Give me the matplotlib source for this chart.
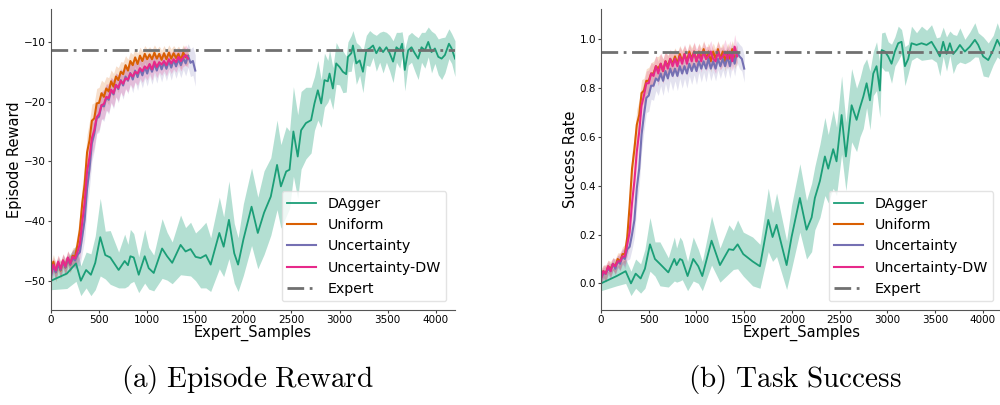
import numpy as np
import matplotlib
matplotlib.use("Agg")
import matplotlib.pyplot as plt

plt.rcParams['mathtext.fontset'] = 'cm'
plt.rcParams['font.family'] = ['DejaVu Sans']

# ---------------- data ----------------
learner_x = list(range(0, 1525, 25))  # expert samples grid for learner methods

# Episode reward
uniform_r = [-48.5, -46.8, -48.6, -47.0, -48.3, -46.6, -47.8, -46.2, -47.3, -45.8,
             -46.0, -44.0, -41.5, -37.0, -33.8, -28.5, -26.5, -23.2, -22.8, -20.3,
             -20.2, -18.6, -19.2, -17.8, -18.3, -16.6, -17.5, -15.8, -16.4, -15.0,
             -15.4, -13.9, -14.8, -13.2, -13.9, -12.6, -13.7, -12.3, -13.2, -12.0,
             -12.9, -12.1, -12.9, -11.8, -12.8, -12.0, -13.0, -11.9, -12.9, -11.8,
             -12.8, -11.9, -12.7, -12.0, -13.0, -11.8, -12.6, -12.3]
uniform_r_sd = [1.5, 1.2, 1.6, 1.2, 1.4, 1.1, 1.4, 1.2, 1.4, 1.3,
                1.6, 2.0, 2.6, 3.0, 3.2, 3.0, 3.2, 2.8, 2.6, 2.5,
                2.6, 2.2, 2.4, 2.0, 2.3, 1.9, 2.2, 1.8, 2.1, 1.7,
                2.0, 1.6, 1.9, 1.5, 1.8, 1.5, 1.8, 1.4, 1.7, 1.4,
                1.7, 1.3, 1.6, 1.3, 1.6, 1.3, 1.6, 1.3, 1.5, 1.3,
                1.6, 1.3, 1.5, 1.3, 1.6, 1.3, 1.5, 1.3]
uncert_r = [-49.2, -47.6, -48.6, -47.2, -48.2, -46.8, -47.8, -46.3, -47.3, -46.2,
            -46.6, -45.7, -45.2, -42.6, -39.8, -34.6, -31.3, -27.0, -25.4, -22.8,
            -22.5, -20.6, -20.8, -19.3, -19.7, -18.1, -18.8, -17.2, -17.9, -16.4,
            -17.3, -15.8, -16.5, -15.2, -16.3, -14.8, -15.9, -14.5, -15.6, -14.2,
            -15.3, -13.9, -15.0, -13.7, -14.8, -13.5, -14.6, -13.4, -14.5, -13.2,
            -14.3, -13.0, -14.1, -12.9, -13.9, -12.7, -13.6, -12.3, -13.5, -13.2,
            -14.8]
uncert_r_sd = [1.3, 1.1, 1.4, 1.1, 1.3, 1.1, 1.3, 1.1, 1.3, 1.2,
               1.5, 1.8, 2.3, 2.8, 3.3, 3.2, 3.1, 3.0, 2.8, 2.6,
               2.6, 2.3, 2.5, 2.2, 2.4, 2.1, 2.4, 2.0, 2.3, 2.0,
               2.3, 1.9, 2.2, 1.9, 2.2, 1.9, 2.2, 1.9, 2.1, 1.9,
               2.1, 1.8, 2.1, 1.8, 2.1, 1.8, 2.1, 1.8, 2.0, 1.8,
               2.1, 1.8, 2.0, 1.8, 2.1, 1.9, 2.1, 2.0, 2.3, 2.4,
               2.6]
unc_dw_r = [-48.9, -47.3, -48.3, -46.8, -48.0, -46.6, -47.6, -46.1, -47.1, -46.0,
            -46.3, -45.2, -43.8, -40.2, -36.8, -31.7, -29.3, -26.1, -24.8, -22.6,
            -22.1, -20.6, -20.4, -19.2, -19.4, -18.0, -18.6, -17.2, -17.7, -16.5,
            -17.0, -16.1, -16.3, -15.3, -15.8, -15.0, -15.3, -14.4, -14.9, -14.1,
            -14.5, -13.7, -14.6, -13.3, -14.2, -13.4, -13.8, -13.2, -13.9, -12.9,
            -13.6, -12.9, -13.4, -12.5, -13.2, -12.6, -12.2, -12.8]
unc_dw_r_sd = [1.4, 1.2, 1.4, 1.1, 1.3, 1.1, 1.3, 1.1, 1.3, 1.2,
               1.5, 1.9, 2.4, 2.9, 3.3, 3.2, 3.0, 3.0, 2.8, 2.6,
               2.6, 2.3, 2.5, 2.2, 2.4, 2.1, 2.3, 2.0, 2.2, 1.9,
               2.1, 1.8, 2.1, 1.8, 2.0, 1.7, 2.0, 1.7, 1.9, 1.7,
               1.9, 1.6, 1.8, 1.6, 1.8, 1.6, 1.8, 1.6, 1.8, 1.6,
               1.7, 1.6, 1.7, 1.5, 1.7, 1.5, 1.7, 1.5]

dagger_r_x = [0, 165, 260, 310, 365, 415, 460, 512, 564, 616,
              703, 766, 800, 825, 860, 912, 974, 1016, 1068, 1155,
              1207, 1260, 1347, 1399, 1451, 1503, 1555, 1610, 1660, 1750,
              1795, 1850, 1905, 1945, 2000, 2085, 2150, 2215, 2285, 2350,
              2390, 2445, 2480, 2520, 2565, 2600, 2650,
              2704, 2739, 2774, 2809, 2843, 2878, 2896, 2930, 2965, 3000,
              3034, 3069, 3087, 3122, 3139, 3174, 3209, 3243, 3278, 3313,
              3348, 3382, 3417, 3452, 3487, 3521, 3556, 3591, 3626, 3650,
              3678, 3713, 3748, 3782, 3817, 3852, 3887, 3922, 3956, 3991,
              4026, 4061, 4095, 4137, 4165, 4200]
dagger_r = [-50.0, -48.8, -47.1, -50.0, -48.2, -49.0, -47.0, -42.7, -45.7, -46.1,
            -48.2, -46.7, -47.4, -45.9, -46.1, -49.0, -45.9, -47.9, -48.7, -44.6,
            -45.9, -47.0, -44.0, -45.1, -44.7, -46.0, -46.2, -45.7, -47.3, -42.0,
            -44.3, -39.8, -45.4, -47.3, -43.1, -37.6, -42.0, -38.6, -35.9, -30.6,
            -34.2, -31.7, -31.4, -25.0, -29.2, -24.8, -23.6,
            -23.1, -20.3, -18.1, -20.3, -16.4, -16.6, -15.3, -17.8, -13.6, -14.2,
            -15.0, -15.4, -12.5, -11.9, -10.6, -13.6, -13.1, -15.0, -11.4, -11.1,
            -10.6, -11.9, -10.9, -11.7, -10.9, -11.9, -13.3, -10.9, -11.4, -10.3,
            -14.7, -11.4, -10.9, -11.9, -12.8, -10.9, -11.4, -10.0, -11.7, -11.1,
            -12.5, -12.8, -12.2, -10.3, -11.1, -12.8]
dagger_r_sd = [1.5, 2.5, 3.0, 2.5, 3.0, 3.5, 4.5, 6.5, 4.0, 4.5,
               3.0, 4.5, 3.5, 4.5, 4.0, 3.0, 4.5, 3.5, 3.0, 5.0,
               4.0, 3.5, 5.0, 4.0, 4.5, 4.0, 5.0, 5.5, 4.5, 6.0,
               5.0, 6.5, 5.0, 4.5, 6.0, 6.5, 6.0, 7.0, 6.5, 7.5,
               7.0, 7.5, 6.5, 7.5, 7.0, 6.5, 6.0,
               5.5, 4.5, 5.0, 4.0, 4.5, 3.5, 4.0, 3.5, 3.5, 3.0,
               3.5, 3.0, 2.5, 3.0, 2.5, 3.5, 2.5, 3.5, 2.5, 3.0,
               2.0, 3.0, 2.5, 3.5, 2.5, 3.0, 3.5, 2.5, 3.0, 2.0,
               3.5, 2.5, 2.5, 3.0, 3.5, 2.5, 3.0, 2.5, 3.5, 2.5,
               3.0, 3.5, 3.0, 2.5, 2.5, 3.0]
expert_r = -11.3

# Success rate
uniform_s = [0.03, 0.05, 0.04, 0.07, 0.06, 0.08, 0.07, 0.10, 0.09, 0.12,
             0.12, 0.19, 0.32, 0.47, 0.55, 0.65, 0.69, 0.78, 0.79, 0.83,
             0.83, 0.86, 0.86, 0.89, 0.88, 0.90, 0.87, 0.91, 0.89, 0.92,
             0.90, 0.93, 0.90, 0.94, 0.91, 0.94, 0.91, 0.95, 0.92, 0.95,
             0.91, 0.95, 0.92, 0.96, 0.92, 0.95, 0.91, 0.95, 0.92, 0.96,
             0.92, 0.95, 0.91, 0.95, 0.92, 0.96, 0.92, 0.94]
uniform_s_sd = [0.03, 0.025, 0.035, 0.025, 0.03, 0.025, 0.03, 0.025, 0.035, 0.03,
                0.04, 0.05, 0.06, 0.065, 0.06, 0.065, 0.06, 0.055, 0.05, 0.05,
                0.055, 0.045, 0.05, 0.04, 0.05, 0.04, 0.05, 0.04, 0.045, 0.035,
                0.045, 0.035, 0.045, 0.035, 0.045, 0.035, 0.04, 0.035, 0.045, 0.035,
                0.04, 0.035, 0.045, 0.035, 0.04, 0.035, 0.045, 0.035, 0.04, 0.035,
                0.045, 0.035, 0.04, 0.035, 0.045, 0.035, 0.04, 0.035]
uncert_s = [0.02, 0.04, 0.04, 0.06, 0.05, 0.08, 0.06, 0.09, 0.08, 0.11,
            0.10, 0.14, 0.15, 0.20, 0.26, 0.39, 0.47, 0.61, 0.69, 0.76,
            0.77, 0.81, 0.81, 0.84, 0.83, 0.86, 0.83, 0.87, 0.84, 0.88,
            0.85, 0.88, 0.85, 0.89, 0.86, 0.89, 0.86, 0.90, 0.87, 0.90,
            0.87, 0.91, 0.88, 0.91, 0.88, 0.92, 0.88, 0.91, 0.88, 0.92,
            0.89, 0.92, 0.89, 0.93, 0.89, 0.94, 0.90, 0.95, 0.93, 0.92,
            0.88]
uncert_s_sd = [0.03, 0.025, 0.03, 0.025, 0.03, 0.025, 0.03, 0.025, 0.03, 0.03,
               0.04, 0.045, 0.05, 0.06, 0.07, 0.075, 0.07, 0.07, 0.065, 0.06,
               0.065, 0.055, 0.06, 0.05, 0.06, 0.05, 0.06, 0.05, 0.06, 0.05,
               0.06, 0.05, 0.06, 0.05, 0.06, 0.05, 0.06, 0.05, 0.055, 0.045,
               0.055, 0.045, 0.055, 0.045, 0.055, 0.045, 0.05, 0.045, 0.05, 0.045,
               0.05, 0.045, 0.05, 0.045, 0.05, 0.045, 0.05, 0.045, 0.05, 0.05,
               0.055]
unc_dw_s = [0.02, 0.05, 0.04, 0.07, 0.05, 0.08, 0.07, 0.09, 0.09, 0.11,
            0.11, 0.16, 0.21, 0.33, 0.42, 0.54, 0.62, 0.73, 0.77, 0.82,
            0.82, 0.86, 0.85, 0.89, 0.86, 0.90, 0.87, 0.91, 0.88, 0.92,
            0.89, 0.92, 0.89, 0.93, 0.90, 0.94, 0.90, 0.94, 0.91, 0.95,
            0.91, 0.94, 0.91, 0.95, 0.92, 0.93, 0.95, 0.92, 0.91, 0.95,
            0.92, 0.93, 0.95, 0.92, 0.95, 0.91, 0.97, 0.93]
unc_dw_s_sd = [0.03, 0.025, 0.035, 0.025, 0.03, 0.025, 0.03, 0.025, 0.035, 0.03,
               0.04, 0.05, 0.06, 0.07, 0.07, 0.07, 0.065, 0.06, 0.055, 0.05,
               0.055, 0.045, 0.05, 0.045, 0.05, 0.045, 0.05, 0.045, 0.05, 0.04,
               0.05, 0.04, 0.05, 0.04, 0.05, 0.04, 0.05, 0.04, 0.045, 0.04,
               0.05, 0.04, 0.045, 0.04, 0.05, 0.04, 0.045, 0.04, 0.05, 0.04,
               0.045, 0.04, 0.05, 0.04, 0.045, 0.04, 0.05, 0.04]

dagger_s_x = [0, 164, 258, 314, 363, 415, 460, 513, 565, 617,
              705, 768, 792, 827, 851, 907, 966, 1019, 1061, 1158,
              1246, 1340, 1386, 1431, 1490, 1588, 1665, 1752, 1797, 1839,
              1944, 1996, 2083, 2153, 2206, 2240, 2293, 2345, 2380, 2432,
              2467, 2520, 2565, 2625, 2677,
              2712, 2747, 2782, 2817, 2852, 2886, 2921, 2939, 2973, 3008,
              3043, 3078, 3113, 3148, 3183, 3218, 3252, 3305, 3357, 3410,
              3462, 3514, 3549, 3584, 3619, 3654, 3689, 3724, 3759, 3811,
              3863, 3916, 3951, 4003, 4056, 4108, 4150, 4200]
dagger_s = [0.00, 0.03, 0.05, 0.00, 0.04, 0.02, 0.06, 0.16, 0.10, 0.08,
            0.045, 0.10, 0.075, 0.10, 0.095, 0.03, 0.10, 0.07, 0.03, 0.175,
            0.075, 0.14, 0.137, 0.16, 0.12, 0.09, 0.07, 0.26, 0.19, 0.24,
            0.075, 0.19, 0.35, 0.22, 0.27, 0.35, 0.42, 0.52, 0.47, 0.55,
            0.50, 0.69, 0.52, 0.73, 0.67,
            0.72, 0.765, 0.82, 0.75, 0.86, 0.89, 0.79, 0.956, 0.95, 0.93,
            0.90, 0.95, 0.984, 0.99, 0.89, 0.92, 0.984, 0.977, 0.984, 0.977,
            0.99, 0.956, 0.93, 0.99, 0.94, 0.984, 0.94, 0.956, 0.977, 0.95,
            0.97, 0.998, 0.977, 0.93, 0.915, 0.956, 0.998, 0.96]
dagger_s_sd = [0.03, 0.04, 0.05, 0.05, 0.06, 0.06, 0.08, 0.11, 0.07, 0.09,
               0.06, 0.09, 0.07, 0.09, 0.08, 0.06, 0.09, 0.07, 0.06, 0.10,
               0.07, 0.10, 0.08, 0.10, 0.09, 0.10, 0.09, 0.13, 0.10, 0.13,
               0.10, 0.13, 0.14, 0.12, 0.14, 0.13, 0.15, 0.16, 0.14, 0.16,
               0.14, 0.16, 0.14, 0.15, 0.13,
               0.12, 0.13, 0.10, 0.12, 0.09, 0.10, 0.11, 0.07, 0.08, 0.06,
               0.08, 0.06, 0.07, 0.05, 0.08, 0.06, 0.07, 0.05, 0.07, 0.06,
               0.07, 0.05, 0.08, 0.06, 0.07, 0.05, 0.08, 0.06, 0.07, 0.05,
               0.06, 0.07, 0.05, 0.08, 0.07, 0.06, 0.07, 0.05]
expert_s = 0.947

labels = ["DAgger", "Uniform", "Uncertainty", "Uncertainty-DW", "Expert"]
colors = ["#1b9e77", "#d95f02", "#7570b3", "#e7298a"]
captions = [r"$\mathrm{(a)\ Episode\ Reward}$", r"$\mathrm{(b)\ Task\ Success}$"]

# ---------------- figure ----------------
fig = plt.figure(figsize=(10, 4.05), dpi=100)
ax1 = fig.add_axes([0.051, 0.2346, 0.404, 0.743])
ax2 = fig.add_axes([0.601, 0.2346, 0.401, 0.743])


def draw(ax, dx, dy, dsd, ys, sds, expert, ylabel, ylim, yticks):
    dx = np.asarray(dx); dy = np.asarray(dy); dsd = np.asarray(dsd)
    ax.fill_between(dx, dy - dsd, dy + dsd, color=colors[0], alpha=0.33, lw=0)
    ax.plot(dx, dy, color=colors[0], lw=1.3, label=labels[0])
    for i, (y, sd) in enumerate(zip(ys, sds)):
        y = np.asarray(y); sd = np.asarray(sd)
        x = np.asarray(learner_x[:len(y)])
        ax.fill_between(x, y - sd, y + sd, color=colors[i + 1], alpha=0.2, lw=0)
    for i, y in enumerate(ys):
        x = np.asarray(learner_x[:len(y)])
        ax.plot(x, y, color=colors[i + 1], lw=1.5, label=labels[i + 1])
    ax.axhline(expert, color="#707070", lw=2.0, dashes=(6, 2, 1, 2), label=labels[4])
    ax.set_xlim(0, 4200)
    ax.set_ylim(*ylim)
    ax.set_yticks(yticks)
    ax.set_xticks([0, 500, 1000, 1500, 2000, 2500, 3000, 3500, 4000])
    ax.tick_params(labelsize=7.5, length=2, pad=1.5, color="#444444")
    for s in ("top", "right"):
        ax.spines[s].set_visible(False)
    for s in ("left", "bottom"):
        ax.spines[s].set_color("#555555")
    ax.set_xlabel("Expert_Samples", fontsize=10.5, labelpad=0)
    ax.set_ylabel(ylabel, fontsize=10.5, labelpad=1.5)
    ax.legend(loc="lower right", fontsize=10.3, frameon=True, framealpha=0.8,
              edgecolor="#dddddd", fancybox=True, borderaxespad=0.6)


draw(ax1, dagger_r_x, dagger_r, dagger_r_sd,
     [uniform_r, uncert_r, unc_dw_r], [uniform_r_sd, uncert_r_sd, unc_dw_r_sd],
     expert_r, "Episode Reward", (-54.9, -4.5), [-50, -40, -30, -20, -10])
draw(ax2, dagger_s_x, dagger_s, dagger_s_sd,
     [uniform_s, uncert_s, unc_dw_s], [uniform_s_sd, uncert_s_sd, unc_dw_s_sd],
     expert_s, "Success Rate", (-0.109, 1.124), [0.0, 0.2, 0.4, 0.6, 0.8, 1.0])

fig.text(0.247, 0.062, captions[0], fontsize=21, ha="center", va="center")
fig.text(0.795, 0.062, captions[1], fontsize=21, ha="center", va="center")

fig.savefig("out.png", dpi=100)
